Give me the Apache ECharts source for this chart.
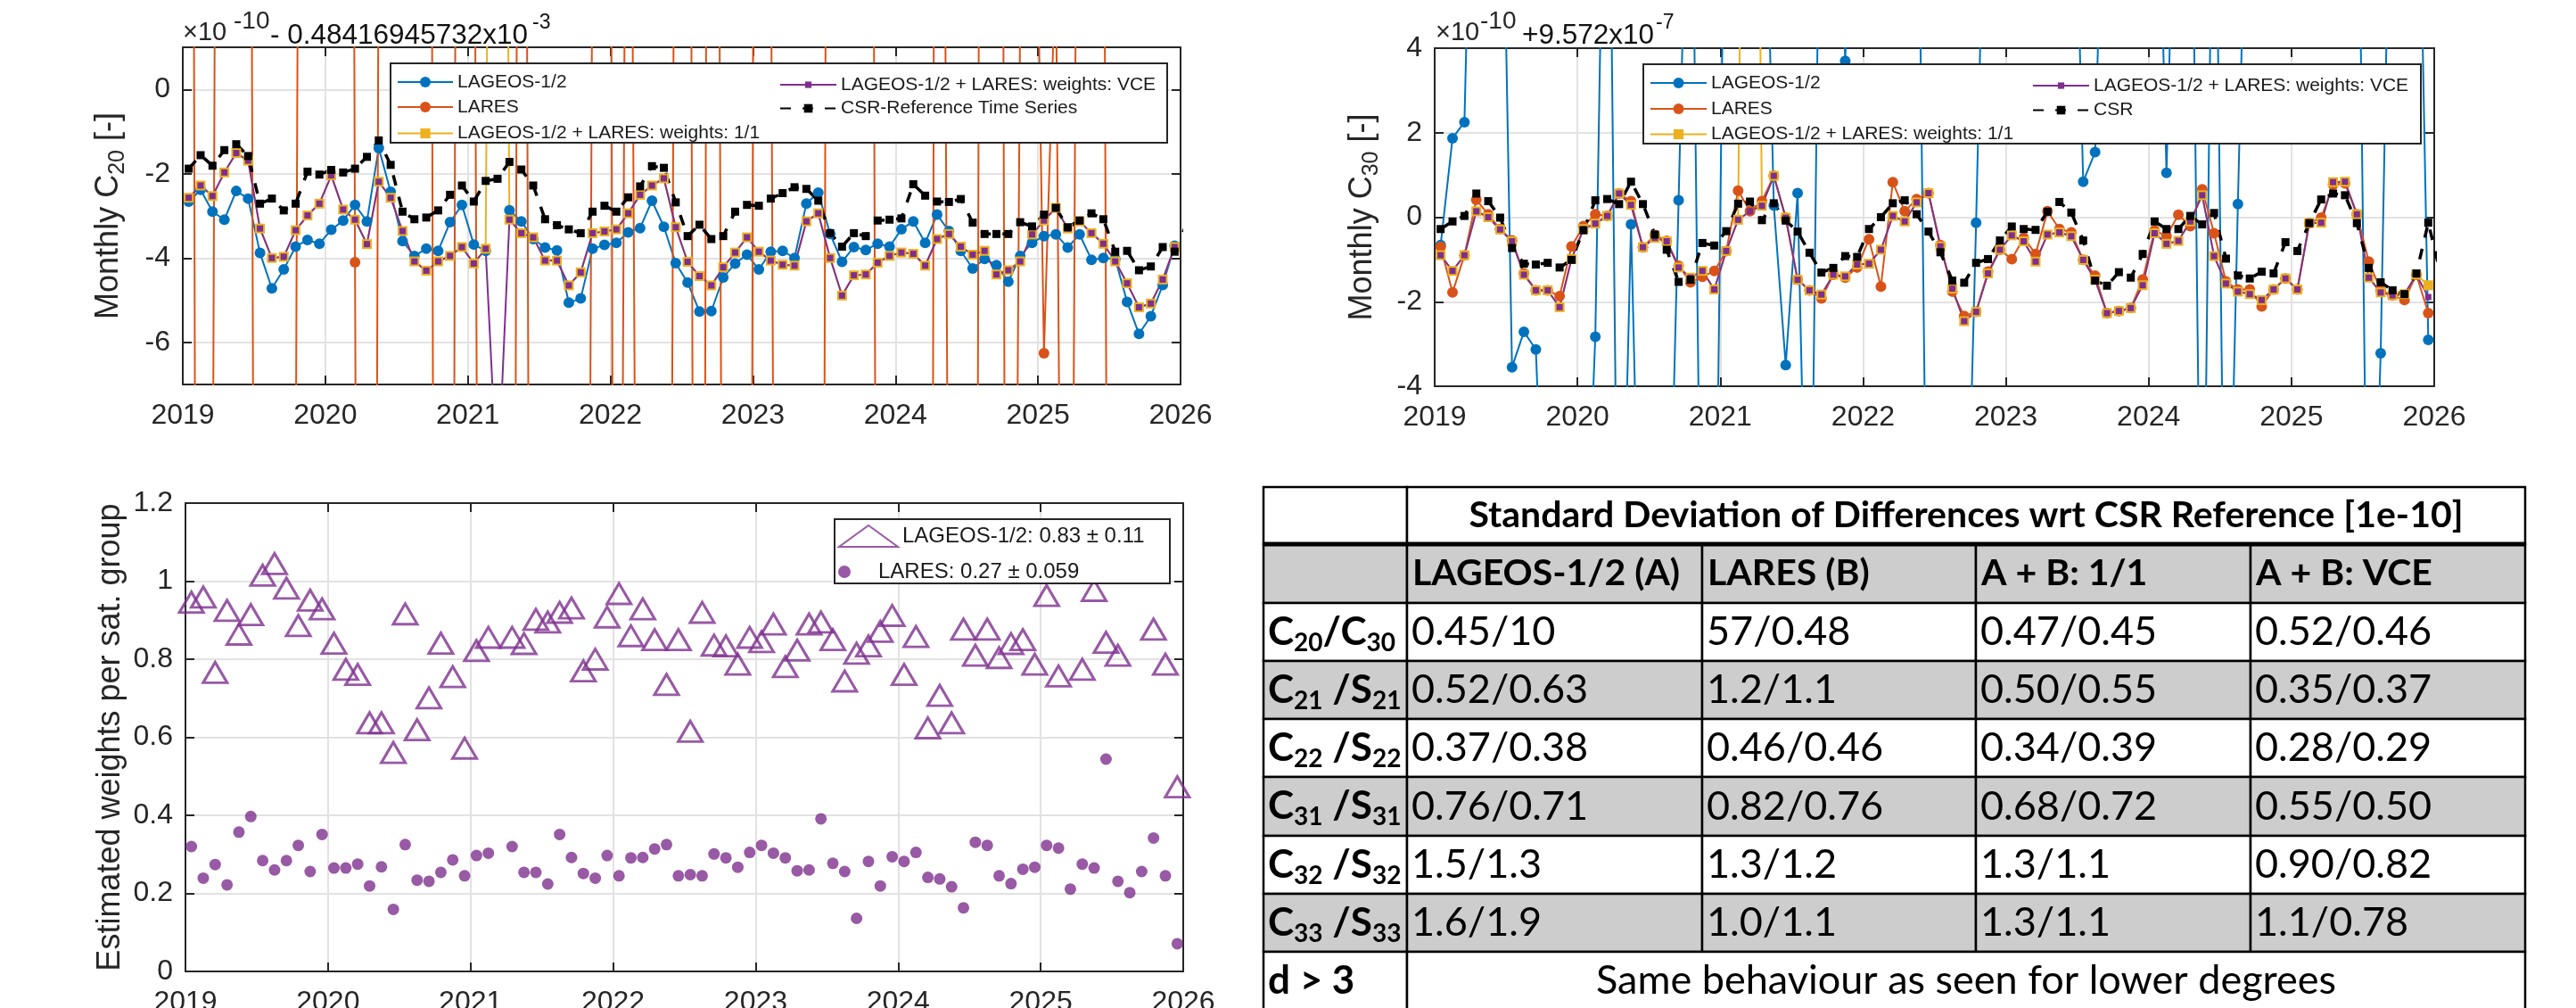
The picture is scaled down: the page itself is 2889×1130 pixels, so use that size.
<!DOCTYPE html>
<html><head><meta charset="utf-8">
<script src="https://cdn.jsdelivr.net/npm/echarts@6/dist/echarts.min.js"></script>
<style>html,body{margin:0;padding:0;background:#fff}#c{width:2889px;height:1130px}</style>
</head><body><div id="c"></div>
<script>
// ---------- categories ----------
const months = [];
for (let y = 2019; y <= 2025; y++) for (let m = 1; m <= 12; m++) months.push(y + '-' + String(m).padStart(2, '0'));
const csrMonths = months.concat(['2026-01']);
const yearTicks = [2019, 2020, 2021, 2022, 2023, 2024, 2025, 2026];

// ---------- C20 (top-left), units 1e-10 ----------
const c20Lageos = [-2.66,-2.38,-2.9,-3.09,-2.41,-2.59,-3.88,-4.72,-4.27,-3.73,-3.57,-3.66,-3.33,-3.11,-2.74,-3.13,-1.39,-2.43,-3.6,-3.95,-3.78,-3.83,-3.15,-2.74,-3.68,-3.83,null,-2.87,-3.13,-3.55,-3.75,-3.82,-5.06,-4.96,-3.78,-3.69,-3.64,-3.39,-3.29,-2.64,-3.26,-4.12,-4.58,-5.27,-5.26,-4.46,-4.13,-3.92,-4.27,-3.85,-3.83,-4.0,-2.71,-2.45,-3.43,-4.09,-3.74,-3.81,-3.66,-3.73,-3.32,-3.13,-3.64,-2.97,-3.36,-3.83,-4.25,-4.02,-4.17,-4.56,-3.95,-3.64,-3.48,-3.44,-3.75,-3.44,-4.04,-4.0,-4.02,-5.04,-5.8,-5.38,-4.64,-3.71];
const c20Lares = [50,-60,-12,60,60,30,-60,-60,-60,-10,60,60,60,80,-4.1,-80,5,60,60,60,60,-60,-45,60,10,-60,-60,-60,40,-40,-60,-60,-60,-60,5,60,-40,20,-30,-60,-60,15,30,-60,50,-20,-60,-60,60,5,-60,-60,-60,-60,40,60,60,60,-25,-60,-60,-60,-100,40,-15,-60,-60,60,60,-40,2,11.8,-6.26,3.2,-35,20,60,10,-60,-60,-60,-60,-60,-60];
const c20Equal = [-2.57,-2.28,-2.53,-1.97,-1.51,-1.69,-3.3,-4.0,-3.97,-3.34,-2.99,-2.71,-2.04,-2.85,-3.09,-3.67,-2.19,-2.57,-3.36,-4.08,-4.3,-4.08,-3.95,-3.74,-4.13,-3.78,40,-3.09,-3.41,-3.51,-4.06,-4.06,-4.65,-4.34,-3.41,-3.37,-3.32,-2.94,-2.5,-2.28,-2.11,-3.27,-4.09,-4.43,-4.65,-4.22,-3.87,-3.51,-3.85,-4.06,-4.16,-4.18,-3.13,-2.94,-4.0,-4.89,-4.41,-4.39,-4.11,-3.95,-3.87,-3.9,-4.18,-3.55,-3.43,-3.73,-3.92,-3.83,-4.39,-4.29,-4.08,-3.44,-3.11,-2.81,-3.3,-3.13,-3.41,-3.66,-4.08,-4.6,-5.17,-5.08,-4.51,-3.74];
const c20Vce = [-2.57,-2.28,-2.53,-1.97,-1.51,-1.69,-3.3,-4.0,-3.97,-3.34,-2.99,-2.71,-2.04,-2.85,-3.09,-3.67,-2.19,-2.57,-3.36,-4.08,-4.3,-4.08,-3.95,-3.74,-4.13,-3.78,-9.5,-3.09,-3.41,-3.51,-4.06,-4.06,-4.65,-4.34,-3.41,-3.37,-3.32,-2.94,-2.5,-2.28,-2.11,-3.27,-4.09,-4.43,-4.65,-4.22,-3.87,-3.51,-3.85,-4.06,-4.16,-4.18,-3.13,-2.94,-4.0,-4.89,-4.41,-4.39,-4.11,-3.95,-3.87,-3.9,-4.18,-3.55,-3.43,-3.73,-3.92,-3.83,-4.39,-4.29,-4.08,-3.44,-3.11,-2.81,-3.3,-3.13,-3.41,-3.66,-4.08,-4.6,-5.17,-5.08,-4.51,-3.74];
const c20Csr = [-1.88,-1.56,-1.81,-1.44,-1.3,-1.58,-2.71,-2.59,-2.87,-2.71,-1.95,-2.02,-1.91,-1.97,-1.88,-1.6,-1.21,-1.79,-2.9,-3.08,-3.04,-2.87,-2.5,-2.28,-2.66,-2.17,-2.12,-1.72,-1.9,-2.28,-3.08,-3.22,-3.32,-3.41,-2.9,-2.76,-2.9,-2.56,-2.3,-1.82,-1.86,-2.68,-3.48,-3.21,-3.55,-3.48,-2.9,-2.74,-2.76,-2.59,-2.46,-2.32,-2.36,-2.64,-3.41,-3.73,-3.41,-3.48,-3.11,-3.09,-3.06,-2.25,-2.52,-2.66,-2.67,-2.6,-3.16,-3.43,-3.43,-3.43,-3.15,-3.25,-2.97,-2.81,-3.27,-3.11,-2.94,-3.08,-3.85,-3.83,-4.29,-4.2,-3.74,-3.85,-3.2];

// ---------- C30 (top-right), units 1e-10 ----------
const c30Lageos = [-0.66,1.87,2.25,14,15,12,-3.55,-2.71,-3.13,-10,-12,-11,-10,-2.83,14,-12,-0.17,-12,-13,-11,0.4,12,-12,-12,12,13,12,12,0.28,-3.5,0.57,-12,12,13,3.7,12,13,12,14,12,12,-12,-13,-12,-11,-0.13,12,13,12,14,12,13,12,12,0.84,1.54,12,13,12,14,12,1.05,12,12,-12,12,-12,0.31,12,13,12,14,12,13,12,13,12,12,-12,-3.22,12,13,12,-2.9];
const c30Lares = [-0.7,-1.78,-0.9,0.41,0.07,-0.28,-0.55,-1.33,-1.73,-1.73,-1.87,-0.69,-0.21,0.07,0.03,0.56,0.38,-0.71,-0.42,-0.56,-1.15,-1.54,-1.41,-1.27,-0.8,0.63,0.14,0.38,0.98,-0.01,-1.48,-1.73,-1.92,-1.36,-1.43,-1.19,-0.52,-1.64,0.83,0.14,0.43,0.57,-0.66,-1.76,-2.34,-2.24,-1.29,-0.77,-0.99,-0.49,-0.87,0.14,-0.28,-0.36,-1.01,-1.38,-2.27,-2.22,-2.15,-1.47,-0.31,-0.45,0.06,-0.21,0.66,-0.38,-1.52,-1.71,-1.71,-2.11,-1.71,-1.45,-1.71,-0.14,-0.01,0.77,0.8,0.07,-1.05,-1.73,-1.85,-1.96,-1.36,-2.27];
const c30Equal = [-0.9,-1.27,-0.9,0.14,0,-0.29,-0.57,-1.36,-1.73,-1.73,-2.13,-0.99,-0.28,-0.15,0.03,0.56,0.29,-0.71,-0.49,-0.57,-1.19,-1.43,-1.27,-1.71,-0.8,-0.06,30,0.27,0.98,-0.01,-1.48,-1.73,-1.83,-1.36,-1.4,-1.12,-1.1,-0.77,0.03,-0.1,0.35,0.57,-0.69,-1.69,-2.46,-2.24,-1.33,-0.77,-0.43,-0.57,-1.05,-0.41,-0.36,-0.45,-1.01,-1.48,-2.27,-2.22,-2.15,-1.61,-0.38,-0.63,-0.56,-0.1,0.52,-0.92,-1.57,-1.76,-1.82,-1.96,-1.71,-1.45,-1.71,-0.14,-0.13,0.83,0.84,0.07,-1.43,-1.78,-1.85,-1.82,-1.36,-1.61];
const c30Vce = [-0.9,-1.27,-0.9,0.14,0,-0.29,-0.57,-1.36,-1.73,-1.73,-2.13,-0.99,-0.28,-0.15,0.03,0.56,0.29,-0.71,-0.49,-0.57,-1.19,-1.43,-1.27,-1.71,-0.8,-0.06,0.14,0.27,0.98,-0.01,-1.48,-1.73,-1.83,-1.36,-1.4,-1.12,-1.1,-0.77,0.03,-0.1,0.35,0.57,-0.69,-1.69,-2.46,-2.24,-1.33,-0.77,-0.43,-0.57,-1.05,-0.41,-0.36,-0.45,-1.01,-1.48,-2.27,-2.22,-2.15,-1.61,-0.38,-0.63,-0.56,-0.1,0.52,-0.92,-1.57,-1.76,-1.82,-1.96,-1.71,-1.45,-1.71,-0.14,-0.13,0.83,0.84,0.07,-1.43,-1.78,-1.85,-1.82,-1.36,-1.89];
const c30Csr = [-0.28,-0.1,0.03,0.56,0.38,-0.01,-0.73,-1.1,-1.12,-1.08,-1.19,-1.01,-0.31,0.4,0.43,0.31,0.84,0.31,-0.41,-0.77,-1.53,-1.48,-0.61,-0.67,-0.33,0.32,0.37,-0.07,0.33,-0.08,-0.34,-0.84,-1.31,-1.2,-0.92,-0.94,-0.28,0.0,0.33,0.4,0.07,-0.34,-0.83,-1.5,-1.55,-1.08,-0.99,-0.55,-0.22,-0.28,-0.3,0.13,0.36,0.11,-0.55,-1.5,-1.62,-1.3,-1.43,-0.87,-0.1,-0.28,-0.28,0.03,-0.17,0.1,-0.98,-1.38,-1.45,-1.29,-1.33,-0.59,-0.8,-0.14,0.42,0.56,0.52,-0.14,-1.2,-1.54,-1.73,-1.82,-1.33,-0.13,-1.3];

// ---------- VCE weights (bottom-left) ----------
const wLageos = [0.946,0.959,0.766,0.925,0.864,0.914,1.015,1.045,0.982,0.886,0.951,0.929,0.841,0.774,0.761,0.637,0.637,0.561,0.916,0.619,0.701,0.841,0.755,0.572,0.822,0.856,null,0.856,0.84,0.902,0.895,0.92,0.931,0.77,0.8,0.908,0.968,0.86,0.929,0.85,0.735,0.85,0.615,0.92,0.836,0.834,0.787,0.856,0.845,0.89,0.781,0.823,0.89,0.895,0.85,0.744,0.815,0.834,0.871,0.912,0.761,0.858,0.624,0.707,0.637,0.877,0.81,0.877,0.804,0.84,0.85,0.787,0.963,0.757,null,0.774,0.976,0.843,0.81,null,null,0.877,0.787,0.473];
const wLares = [0.32,0.239,0.274,0.222,0.357,0.397,0.284,0.26,0.284,0.323,0.256,0.351,0.265,0.265,0.275,0.219,0.268,0.159,0.325,0.234,0.231,0.254,0.286,0.245,0.297,0.303,null,0.32,0.254,0.254,0.224,0.351,0.292,0.251,0.239,0.297,0.245,0.291,0.292,0.314,0.325,0.245,0.248,0.245,0.301,0.291,0.267,0.305,0.323,0.303,0.291,0.258,0.26,0.391,0.277,0.256,0.136,0.282,0.219,0.294,0.282,0.305,0.241,0.237,0.217,0.163,0.331,0.323,0.245,0.225,0.262,0.267,0.323,0.316,0.211,0.275,0.265,0.544,0.231,0.202,0.256,0.342,0.245,0.071];

// ---------- table ----------
const tblTitle = 'Standard Deviation of Differences wrt CSR Reference [1e-10]';
const tblHead = ['LAGEOS-1/2 (A)', 'LARES (B)', 'A + B: 1/1', 'A + B: VCE'];
const tblRowLabels = [['C','20','/C','30'],['C','21',' /S','21'],['C','22',' /S','22'],['C','31',' /S','31'],['C','32',' /S','32'],['C','33',' /S','33']];
const tblColA = ['0.45/10','0.52/0.63','0.37/0.38','0.76/0.71','1.5/1.3','1.6/1.9'];
const tblColB = ['57/0.48','1.2/1.1','0.46/0.46','0.82/0.76','1.3/1.2','1.0/1.1'];
const tblColEq = ['0.47/0.45','0.50/0.55','0.34/0.39','0.68/0.72','1.3/1.1','1.3/1.1'];
const tblColVce = ['0.52/0.46','0.35/0.37','0.28/0.29','0.55/0.50','0.90/0.82','1.1/0.78'];
const tblLastLabel = 'd > 3';
const tblLastText = 'Same behaviour as seen for lower degrees';

// ---------- exponent annotations ----------
const expTL = ['\u00d710', '-10', '- 0.48416945732x10', '-3'];
const expTR = ['\u00d710', '-10', '+9.572x10', '-7'];

// ---------- names ----------
const nL = 'LAGEOS-1/2', nR = 'LARES', nE = 'LAGEOS-1/2 + LARES: weights: 1/1', nV = 'LAGEOS-1/2 + LARES: weights: VCE';
const nCsr1 = 'CSR-Reference Time Series', nCsr2 = 'CSR';
const nWL = 'LAGEOS-1/2: 0.83 \u00b1 0.11', nWR = 'LARES: 0.27 \u00b1 0.059';

// ---------- helpers ----------
const FONT = "'Liberation Sans', Arial, sans-serif";
const AX = '#262626', GRID = '#e2e2e2';
const C_BLUE = '#0072BD', C_OR = '#D95319', C_YEL = '#EDB120', C_PUR = '#7E2F8E';
function ym(s) { const p = s.split('-'); return +p[0] + (+p[1] - 0.5) / 12; }
function xy(ms, vals) { return vals.map((v, i) => [ym(ms[i]), v]); }

const GRIDS = [
  {left: 205, top: 53, width: 1119, height: 378},
  {left: 1609, top: 54, width: 1121, height: 379},
  {left: 208, top: 564, width: 1119, height: 525}
];
function xAxes(g) {
  const common = {gridIndex: g, type: 'value', min: yearTicks[0], max: yearTicks[yearTicks.length - 1], interval: 1,
    axisLine: {show: true, onZero: false, lineStyle: {color: AX, width: 2}},
    axisTick: {show: true, inside: true, length: 10, lineStyle: {color: AX, width: 2}}};
  return [
    Object.assign({}, common, {position: 'bottom',
      axisLabel: {show: true, color: AX, fontSize: 32, fontFamily: FONT, margin: 19, formatter: v => String(Math.round(v))},
      splitLine: {show: true, lineStyle: {color: GRID, width: 2}}}),
    Object.assign({}, common, {position: 'top', axisLabel: {show: false}, splitLine: {show: false}})
  ];
}
function yAxes(g, cfg) {
  const common = Object.assign({gridIndex: g, type: 'value',
    axisLine: {show: true, onZero: false, lineStyle: {color: AX, width: 2}},
    axisTick: {show: true, inside: true, length: 10, lineStyle: {color: AX, width: 2}}}, cfg.scale);
  return [
    Object.assign({}, common, {position: 'left',
      name: cfg.name, nameLocation: 'middle', nameGap: cfg.gap, nameRotate: 90,
      nameTextStyle: {color: AX, fontFamily: FONT, fontSize: 36,
        rich: {a: {color: AX, fontFamily: FONT, fontSize: 36, lineHeight: 46, verticalAlign: 'middle'},
               s: {color: AX, fontFamily: FONT, fontSize: 25, lineHeight: 25, verticalAlign: 'bottom'}}},
      axisLabel: Object.assign({show: true, color: AX, fontSize: 32, fontFamily: FONT, margin: 14}, cfg.label || {}),
      splitLine: {show: true, lineStyle: {color: GRID, width: 2}}}),
    Object.assign({}, common, {position: 'right', axisLabel: {show: false}, splitLine: {show: false}})
  ];
}
function lineSeries(name, g, ms, vals, color, symbol, size, extra) {
  return Object.assign({
    name, type: 'line', xAxisIndex: 2 * g, yAxisIndex: 2 * g, data: xy(ms, vals),
    symbol, symbolSize: size, showSymbol: true, clip: true, connectNulls: false,
    itemStyle: {color}, lineStyle: {color, width: 2}, emphasis: {disabled: true}
  }, extra || {});
}
function csrSeries(name, g, vals) {
  return lineSeries(name, g, csrMonths, vals, '#000', 'rect', 9,
    {lineStyle: {color: '#000', width: 3.5, type: [12, 13]}});
}
function leg(name, left, cy, ih, iw, fs) {
  return {show: true, data: [name], left, top: cy - ih / 2, orient: 'horizontal', padding: 0, itemGap: 0,
    itemWidth: iw, itemHeight: ih, selectedMode: false, z: 10,
    textStyle: {color: '#1a1a1a', fontSize: fs, fontFamily: FONT}};
}

// ---------- table graphics ----------
const TC = [1417, 1578, 1909, 2216, 2524, 2832];
const TR = [546, 610, 676, 741, 806, 871, 937, 1002, 1067, 1132];
const GREY = '#cdcdcd';
const els = [];
function cell(x0, x1, y0, y1, fill) {
  els.push({type: 'rect', shape: {x: x0, y: y0, width: x1 - x0, height: y1 - y0}, style: {fill, stroke: '#000', lineWidth: 2.5}, z: 1});
}
function txt(text, x, y, font, align, rich, fill, z) {
  const st = {text, font, fill: fill || '#000', align, textAlign: align, verticalAlign: 'middle', textVerticalAlign: 'middle'};
  if (rich) st.rich = rich;
  els.push({type: 'text', x, y, style: st, z: z || 3});
}
const bodyCols = [tblColA, tblColB, tblColEq, tblColVce];
for (let r = 0; r < TR.length - 1; r++) {
  const fill = r % 2 === 1 ? GREY : '#ffffff';
  if (r === 0 || r === TR.length - 2) { cell(TC[0], TC[1], TR[r], TR[r + 1], fill); cell(TC[1], TC[5], TR[r], TR[r + 1], fill); }
  else for (let c = 0; c < 5; c++) cell(TC[c], TC[c + 1], TR[r], TR[r + 1], fill);
}
els.push({type: 'line', shape: {x1: TC[0], y1: TR[1], x2: TC[5], y2: TR[1]}, style: {stroke: '#000', lineWidth: 5}, z: 2});
const mid = r => (TR[r] + TR[r + 1]) / 2;
txt(tblTitle, (TC[1] + TC[5]) / 2, mid(0), 'bold 41px Lato', 'center');
tblHead.forEach((h, i) => txt(h, TC[i + 1] + 6, mid(1), 'bold 41px Lato', 'left'));
const subRich = {b: {font: 'bold 44px Lato', lineHeight: 52, fill: '#000', verticalAlign: 'middle'},
                 s: {font: 'bold 28px Lato', lineHeight: 28, fill: '#000', verticalAlign: 'bottom'}};
tblRowLabels.forEach((p, i) => {
  txt('{b|' + p[0] + '}{s|' + p[1] + '}{b|' + p[2] + '}{s|' + p[3] + '}', TC[0] + 5, mid(i + 2), 'bold 44px Lato', 'left', subRich);
  bodyCols.forEach((col, c) => txt(col[i], TC[c + 1] + 5, mid(i + 2), '45px Lato', 'left'));
});
txt(tblLastLabel, TC[0] + 5, mid(8), 'bold 44px Lato', 'left');
txt(tblLastText, (TC[1] + TC[5]) / 2, mid(8), '45px Lato', 'center');

// exponent labels (positions of text pieces)
function expo(parts, x0, x1, x2, x3, mainSize, supSize) {
  txt(parts[0], x0, 37, '29px ' + FONT, 'left', null, AX, 6);
  txt(parts[1], x1, 24, '28px ' + FONT, 'left', null, AX, 6);
  txt(parts[2], x2, 40, mainSize + 'px ' + FONT, 'left', null, '#111', 6);
  txt(parts[3], x3, 26, supSize + 'px ' + FONT, 'left', null, '#111', 6);
}
expo(expTL, 205, 262, 303, 597, 31.5, 23);
expo(expTR, 1610, 1660, 1707, 1857, 31.5, 23);
// legend boxes
[[438, 71, 871, 89], [1843, 72, 872, 89], [936, 582, 376, 72]].forEach(b =>
  els.push({type: 'rect', z: 5, shape: {x: b[0], y: b[1], width: b[2], height: b[3]}, style: {fill: '#fff', stroke: AX, lineWidth: 2}}));

const option = {
  backgroundColor: '#ffffff',
  animation: false,
  grid: GRIDS.map(g => Object.assign({outerBoundsMode: 'none', containLabel: false}, g)),
  xAxis: [].concat(xAxes(0), xAxes(1), xAxes(2)),
  yAxis: [].concat(
    yAxes(0, {scale: {min: -7, max: 1, splitNumber: 4}, name: '{a|Monthly C}{s|20}{a| [-]}', gap: 60,
              label: {showMinLabel: false, showMaxLabel: false}}),
    yAxes(1, {scale: {min: -4, max: 4, interval: 2}, name: '{a|Monthly C}{s|30}{a| [-]}', gap: 58}),
    yAxes(2, {scale: {min: 0, max: 1.2, interval: 0.2}, name: 'Estimated weights per sat. group', gap: 66})
  ),
  legend: [
    leg(nL, 445, 89, 15, 62, 21), leg(nR, 445, 117, 15, 62, 21), leg(nE, 445, 146, 14, 62, 21),
    leg(nV, 874, 89, 9, 63, 21), leg(nCsr1, 874, 117, 12, 63, 21),
    leg(nL, 1850, 90, 15, 63, 21), leg(nR, 1850, 119, 15, 63, 21), leg(nE, 1850, 147, 14, 63, 21),
    leg(nV, 2279, 90, 9, 63, 21), leg(nCsr2, 2279, 119, 12, 63, 21),
    leg(nWL, 940, 600, 24, 66, 24), leg(nWR, 940, 636, 14, 66, 24)
  ],
  graphic: {elements: els},
  series: [
    lineSeries(nL, 0, months, c20Lageos, C_BLUE, 'circle', 12),
    lineSeries(nR, 0, months, c20Lares, C_OR, 'circle', 12),
    lineSeries(nE, 0, months, c20Equal, C_YEL, 'rect', 11),
    lineSeries(nV, 0, months, c20Vce, C_PUR, 'rect', 7),
    csrSeries(nCsr1, 0, c20Csr),
    lineSeries(nL, 1, months, c30Lageos, C_BLUE, 'circle', 12),
    lineSeries(nR, 1, months, c30Lares, C_OR, 'circle', 12),
    lineSeries(nE, 1, months, c30Equal, C_YEL, 'rect', 11),
    lineSeries(nV, 1, months, c30Vce, C_PUR, 'rect', 7),
    csrSeries(nCsr2, 1, c30Csr),
    {name: nWL, type: 'scatter', xAxisIndex: 4, yAxisIndex: 4, data: xy(months, wLageos).filter(d => d[1] !== null),
     symbol: 'triangle', symbolSize: [27, 23], itemStyle: {color: 'rgba(0,0,0,0)', borderColor: C_PUR, borderWidth: 3}, emphasis: {disabled: true}},
    {name: nWR, type: 'scatter', xAxisIndex: 4, yAxisIndex: 4, data: xy(months, wLares).filter(d => d[1] !== null),
     symbol: 'circle', symbolSize: 13, itemStyle: {color: C_PUR}, emphasis: {disabled: true}}
  ]
};
const chart = echarts.init(document.getElementById('c'), null, {renderer: 'canvas', width: 2889, height: 1130});
chart.setOption(option);
</script></body></html>
